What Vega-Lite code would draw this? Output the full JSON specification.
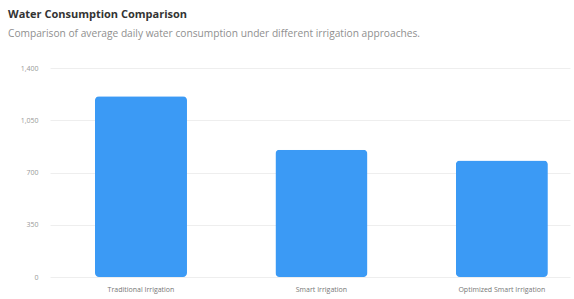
{
  "$schema": "https://vega.github.io/schema/vega-lite/v6.json",
  "autosize": {"type": "none"},
  "width": 520,
  "height": 209,
  "padding": {"left": 50, "top": 68, "right": 4, "bottom": 22},
  "background": "#ffffff",
  "title": {
    "text": "Water Consumption Comparison",
    "subtitle": "Comparison of average daily water consumption under different irrigation approaches.",
    "anchor": "start",
    "frame": "group",
    "dx": -42,
    "offset": 25,
    "font": "Open Sans",
    "fontSize": 11,
    "fontWeight": "bold",
    "color": "#333333",
    "subtitleFont": "Open Sans",
    "subtitleFontSize": 10.2,
    "subtitleColor": "#8f8f8f",
    "subtitlePadding": 9
  },
  "data": {
    "values": [
      {"approach": "Traditional Irrigation", "consumption": 1210},
      {"approach": "Smart Irrigation", "consumption": 852},
      {"approach": "Optimized Smart Irrigation", "consumption": 780}
    ]
  },
  "mark": {"type": "bar", "color": "#3b9af5", "cornerRadius": 4},
  "encoding": {
    "x": {
      "field": "approach",
      "type": "nominal",
      "sort": null,
      "scale": {"paddingInner": 0.49, "paddingOuter": 0.186, "align": 0.67},
      "axis": {
        "title": null,
        "labelAngle": 0,
        "domain": false,
        "ticks": false,
        "labelPadding": 8,
        "labelFont": "Open Sans",
        "labelFontSize": 7,
        "labelColor": "#777777"
      }
    },
    "y": {
      "field": "consumption",
      "type": "quantitative",
      "scale": {"domain": [0, 1400], "nice": false},
      "axis": {
        "title": null,
        "values": [0, 350, 700, 1050, 1400],
        "format": ",d",
        "domain": false,
        "ticks": false,
        "labelPadding": 12,
        "labelFont": "Open Sans",
        "labelFontSize": 7,
        "labelColor": "#999999",
        "gridColor": "#eeeeee",
        "gridWidth": 1
      }
    }
  },
  "config": {"view": {"stroke": null}}
}
